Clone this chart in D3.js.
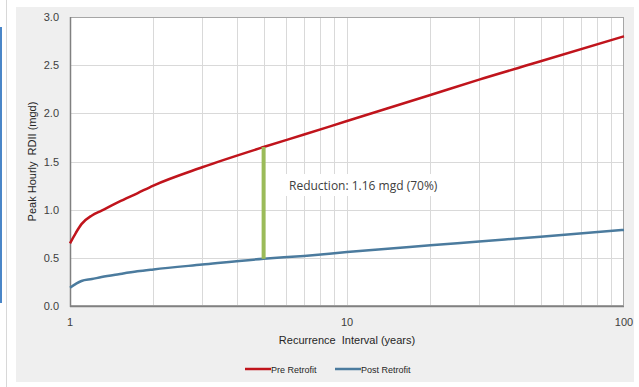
<!DOCTYPE html>
<html>
<head>
<style>
  body { margin: 0; background: #fff; }
  svg { display: block; }
</style>
</head>
<body>
<svg width="639" height="387"></svg>
<script src="https://d3js.org/d3.v7.min.js"></script>
<script>
  // data
  var years = [1, 1.05, 1.1, 1.2, 1.3, 1.5, 1.75, 2, 3, 5, 7, 10, 20, 30, 50, 100];
  var preRetrofit = [0.65, 0.76, 0.85, 0.94, 0.99, 1.08, 1.17, 1.25, 1.44, 1.65, 1.78, 1.92, 2.19, 2.35, 2.54, 2.8];
  var postRetrofit = [0.19, 0.23, 0.26, 0.28, 0.3, 0.33, 0.36, 0.38, 0.43, 0.49, 0.52, 0.56, 0.63, 0.67, 0.72, 0.79];
  var yTicks = [0, 0.5, 1, 1.5, 2, 2.5, 3];
  var xTicks = [1, 10, 100];
  var xGrid = [2, 3, 4, 5, 6, 7, 8, 9, 20, 30, 40, 50, 60, 70, 80, 90];
  var markYear = 5;
  var seriesNames = ["Pre Retrofit", "Post Retrofit"];
  var seriesColors = ["#c0141c", "#4b7b9e"];

  var svg = d3.select("svg");
  var font = "'Liberation Sans', Arial, sans-serif";

  // page frame bits
  svg.append("rect").attr("x", 0).attr("y", 27).attr("width", 2).attr("height", 276).attr("fill", "#4a86c8");
  svg.append("line").attr("x1", 6.5).attr("x2", 6.5).attr("y1", 0).attr("y2", 387).attr("stroke", "#d8d8d8");
  svg.append("rect").attr("x", 16).attr("y", 7).attr("width", 618).attr("height", 375).attr("fill", "#efefef");

  var pL = 70, pR = 624, pT = 17, pB = 306;

  var x = d3.scaleLog().domain([1, 100]).range([pL, pR]);
  var y = d3.scaleLinear().domain([0, 3]).range([pB, pT]);

  svg.append("rect").attr("x", pL).attr("y", pT).attr("width", pR - pL).attr("height", pB - pT).attr("fill", "#fff");

  var g = svg.append("g");

  g.selectAll(".xg").data(xGrid.concat([10])).enter().append("line")
    .attr("x1", function(d) { return Math.round(x(d)) + 0.5; })
    .attr("x2", function(d) { return Math.round(x(d)) + 0.5; })
    .attr("y1", pT).attr("y2", pB)
    .attr("stroke", "#d9d9d9").attr("stroke-width", 1);

  g.selectAll(".yg").data(yTicks.slice(1, -1)).enter().append("line")
    .attr("x1", pL).attr("x2", pR)
    .attr("y1", function(d) { return Math.round(y(d)) + 0.5; })
    .attr("y2", function(d) { return Math.round(y(d)) + 0.5; })
    .attr("stroke", "#d9d9d9").attr("stroke-width", 1);

  // border
  g.append("rect").attr("x", pL + 0.5).attr("y", pT + 0.5).attr("width", pR - pL - 1).attr("height", pB - pT - 1)
    .attr("fill", "none").attr("stroke", "#a6a6a6");
  g.append("line").attr("x1", pL + 0.5).attr("x2", pL + 0.5).attr("y1", pT).attr("y2", pB + 1).attr("stroke", "#808080").attr("stroke-width", 1.5);
  g.append("line").attr("x1", pL).attr("x2", pR).attr("y1", pB + 0.5).attr("y2", pB + 0.5).attr("stroke", "#808080").attr("stroke-width", 1.5);

  // ticks
  svg.selectAll(".yl").data(yTicks).enter().append("text")
    .attr("x", 59).attr("y", function(d) { return y(d) + 4; })
    .attr("text-anchor", "end").attr("font-family", font).attr("font-size", "11px").attr("fill", "#404040")
    .text(function(d) { return d3.format(".1f")(d); });

  svg.selectAll(".xl").data(xTicks).enter().append("text")
    .attr("x", function(d) { return x(d); }).attr("y", 326)
    .attr("text-anchor", "middle").attr("font-family", font).attr("font-size", "11px").attr("fill", "#404040")
    .text(function(d) { return d; });

  svg.append("text").attr("x", x(10)).attr("y", 344)
    .attr("text-anchor", "middle").attr("font-family", font).attr("font-size", "11px").attr("fill", "#262626")
    .attr("xml:space", "preserve")
    .text("Recurrence  Interval (years)");

  svg.append("text").attr("transform", "translate(36," + (pT + pB) / 2 + ") rotate(-90)")
    .attr("text-anchor", "middle").attr("font-family", font).attr("font-size", "11px").attr("fill", "#262626")
    .attr("xml:space", "preserve")
    .text("Peak Hourly  RDII (mgd)");

  // lines
  var series = [preRetrofit, postRetrofit];
  var line = d3.line()
    .x(function(d, i) { return x(years[i]); })
    .y(function(d) { return y(d); })
    .curve(d3.curveMonotoneX);

  g.selectAll(".series").data(series).enter().append("path")
    .attr("d", line)
    .attr("fill", "none")
    .attr("stroke", function(d, i) { return seriesColors[i]; })
    .attr("stroke-width", 2.5);

  // reduction marker
  var iMark = years.indexOf(markYear);
  g.append("line")
    .attr("x1", x(markYear)).attr("x2", x(markYear))
    .attr("y1", y(preRetrofit[iMark])).attr("y2", y(postRetrofit[iMark]))
    .attr("stroke", "#9bbb59").attr("stroke-width", 4);

  g.append("rect").attr("x", 284).attr("y", 174).attr("width", 162).attr("height", 22).attr("fill", "#fff");
  g.append("text").attr("x", 289).attr("y", 190)
    .attr("font-family", "'Open Sans', sans-serif").attr("font-size", "12px").attr("fill", "#404040")
    .text("Reduction: " + d3.format(".2f")(preRetrofit[iMark] - postRetrofit[iMark]) + " mgd (" +
      Math.round((preRetrofit[iMark] - postRetrofit[iMark]) / preRetrofit[iMark] * 100) + "%)");

  // legend
  var legX = [245, 335];
  var leg = svg.selectAll(".leg").data(seriesNames).enter().append("g")
    .attr("transform", function(d, i) { return "translate(" + legX[i] + ",369)"; });
  leg.append("line").attr("x1", 0).attr("x2", 26).attr("y1", 0).attr("y2", 0)
    .attr("stroke", function(d, i) { return seriesColors[i]; }).attr("stroke-width", 2.5);
  leg.append("text").attr("x", 26).attr("y", 3.5)
    .attr("font-family", font).attr("font-size", "9px").attr("fill", "#262626")
    .text(function(d) { return d; });
</script>
</body>
</html>
